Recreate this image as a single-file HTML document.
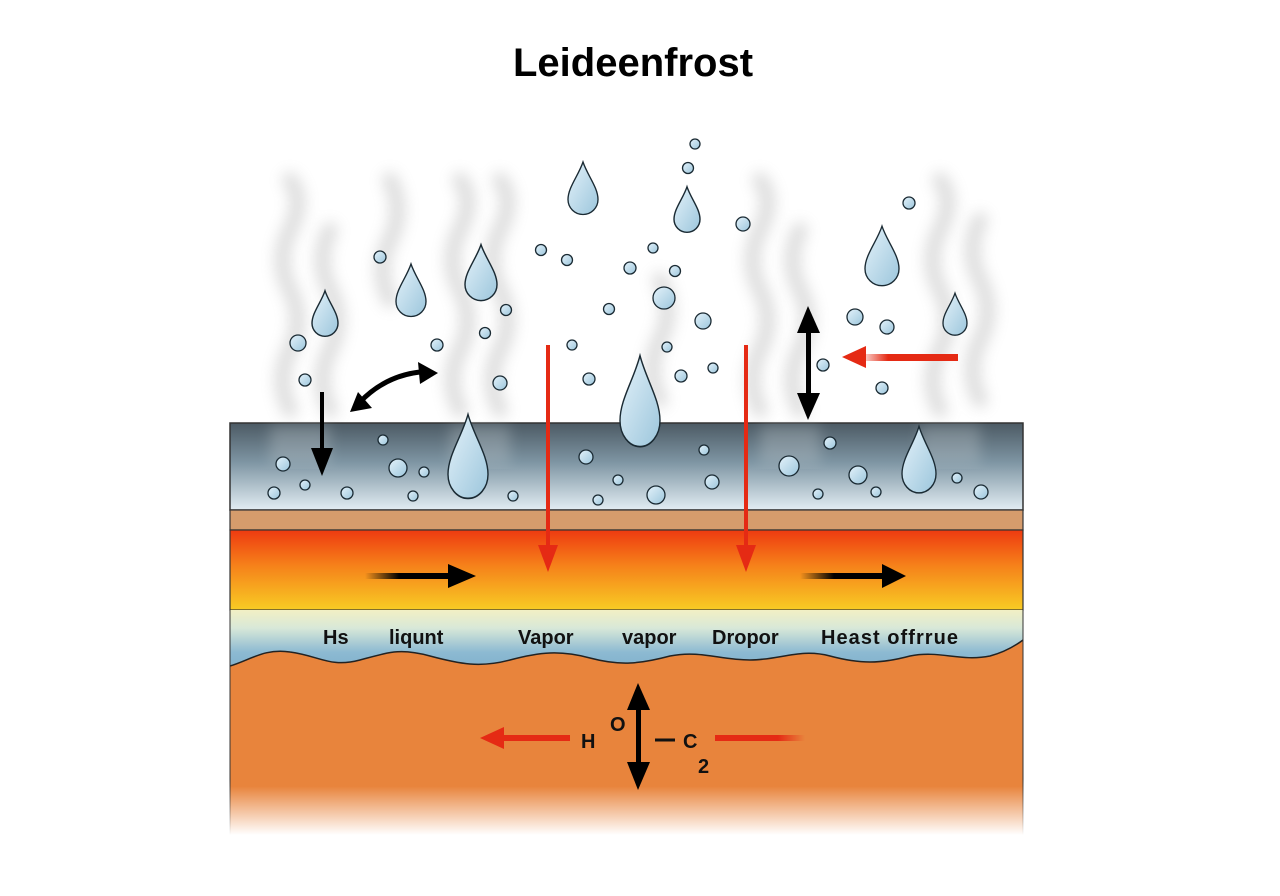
<!DOCTYPE html>
<html><head><meta charset="utf-8"><style>
html,body{margin:0;padding:0;background:#fff;}
svg{display:block}
</style></head><body>
<svg width="1280" height="896" viewBox="0 0 1280 896" xmlns="http://www.w3.org/2000/svg">
<defs>
<linearGradient id="slate" x1="0" y1="0" x2="0" y2="1">
<stop offset="0" stop-color="#4c5a64"/><stop offset="0.45" stop-color="#7e95a3"/><stop offset="1" stop-color="#e2edf3"/></linearGradient>
<linearGradient id="hot" x1="0" y1="0" x2="0" y2="1">
<stop offset="0" stop-color="#ee3a10"/><stop offset="0.45" stop-color="#f6821a"/><stop offset="1" stop-color="#f8cc24"/></linearGradient>
<linearGradient id="band" x1="0" y1="0" x2="0" y2="1">
<stop offset="0" stop-color="#f2f0c4"/><stop offset="0.3" stop-color="#d8e8d8"/><stop offset="0.7" stop-color="#8dbad2"/><stop offset="1" stop-color="#7fb0cc"/></linearGradient>
<linearGradient id="org" x1="0" y1="0" x2="0" y2="1">
<stop offset="0" stop-color="#e8843c"/><stop offset="0.75" stop-color="#e8843c"/><stop offset="1" stop-color="#fff" stop-opacity="1"/></linearGradient>
<linearGradient id="drop" x1="0" y1="0" x2="1" y2="1">
<stop offset="0" stop-color="#e4f2fa"/><stop offset="1" stop-color="#9cc6dc"/></linearGradient>
<linearGradient id="fadeL" x1="0" y1="0" x2="1" y2="0"><stop offset="0" stop-color="#000" stop-opacity="0"/><stop offset="0.4" stop-color="#000"/></linearGradient>
<linearGradient id="fadeR" x1="0" y1="0" x2="1" y2="0"><stop offset="0" stop-color="#e52a14"/><stop offset="0.7" stop-color="#e52a14"/><stop offset="1" stop-color="#e52a14" stop-opacity="0"/></linearGradient>
<linearGradient id="sideL" x1="0" y1="0" x2="0" y2="1"><stop offset="0" stop-color="#333"/><stop offset="0.75" stop-color="#333"/><stop offset="1" stop-color="#333" stop-opacity="0"/></linearGradient>
<filter id="blur"><feGaussianBlur stdDeviation="7"/></filter>
<path id="tear" d="M0,-2.4 C0.3,-1.5 1,-0.7 1,0.1 A1,1 0 0 1 -1,0.1 C-1,-0.7 -0.3,-1.5 0,-2.4Z"/>
</defs>

<text x="633" y="76" text-anchor="middle" font-family="Liberation Sans, sans-serif" font-weight="bold" font-size="40" fill="#000">Leideenfrost</text>

<!-- smoke -->
<g filter="url(#blur)" fill="none" stroke="#8a8a8a" stroke-width="16" opacity="0.28" stroke-linecap="round">
<path d="M290,410 q-15,-30 0,-60 q15,-30 0,-60 q-15,-30 0,-60 q15,-30 0,-50"/>
<path d="M330,410 q-15,-30 0,-60 q15,-30 0,-60 q-15,-30 0,-60"/>
<path d="M460,410 q-15,-30 0,-60 q15,-30 0,-60 q-15,-30 0,-60 q15,-30 0,-50"/>
<path d="M500,410 q-15,-30 0,-60 q15,-30 0,-60 q-15,-30 0,-60 q15,-30 0,-50"/>
<path d="M390,300 q-15,-30 0,-60 q15,-30 0,-60"/>
<path d="M760,410 q-15,-30 0,-60 q15,-30 0,-60 q-15,-30 0,-60 q15,-30 0,-50"/>
<path d="M800,410 q-15,-30 0,-60 q15,-30 0,-60 q-15,-30 0,-60"/>
<path d="M940,410 q-15,-30 0,-60 q15,-30 0,-60 q-15,-30 0,-60 q15,-30 0,-50"/>
<path d="M980,400 q-15,-30 0,-60 q15,-30 0,-60 q-15,-30 0,-60"/>
<path d="M660,400 q-15,-30 0,-60 q15,-30 0,-60"/>
</g>

<!-- layers -->
<rect x="230" y="423" width="793" height="87" fill="url(#slate)" stroke="#333" stroke-width="1.5"/>
<g filter="url(#blur)" fill="#c8d0d4" opacity="0.3">
<rect x="270" y="425" width="60" height="40"/><rect x="450" y="425" width="60" height="40"/><rect x="760" y="425" width="60" height="40"/><rect x="920" y="425" width="60" height="40"/></g>
<rect x="230" y="510" width="793" height="20" fill="#d69c6c" stroke="#333" stroke-width="1.2"/>
<rect x="230" y="530" width="793" height="80" fill="url(#hot)" stroke="#333" stroke-width="1.2"/>
<rect x="230" y="610" width="793" height="60" fill="url(#band)"/>
<path d="M230,666 C250,660 265,648 290,652 C320,656 330,668 360,660 C390,652 400,648 430,656 C460,664 480,668 510,660 C540,652 560,650 590,658 C620,666 640,664 670,656 C700,650 720,660 750,660 C780,660 800,648 830,656 C860,664 880,664 910,656 C940,650 960,662 990,656 C1005,652 1015,646 1023,640 L1023,835 L230,835Z" fill="url(#org)"/>
<path d="M230,666 C250,660 265,648 290,652 C320,656 330,668 360,660 C390,652 400,648 430,656 C460,664 480,668 510,660 C540,652 560,650 590,658 C620,666 640,664 670,656 C700,650 720,660 750,660 C780,660 800,648 830,656 C860,664 880,664 910,656 C940,650 960,662 990,656 C1005,652 1015,646 1023,640" fill="none" stroke="#222" stroke-width="1.5"/>
<rect x="229.5" y="610" width="1" height="225" fill="url(#sideL)"/>
<rect x="1022.5" y="610" width="1" height="225" fill="url(#sideL)"/>

<!-- labels -->
<g font-family="Liberation Sans, sans-serif" font-weight="bold" font-size="20" fill="#111">
<text x="323" y="644">Hs</text><text x="389" y="644">liqunt</text><text x="518" y="644">Vapor</text><text x="622" y="644">vapor</text><text x="712" y="644">Dropor</text><text x="821" y="644" textLength="137">Heast offrrue</text>
<text x="581" y="748">H</text><text x="610" y="731">O</text><text x="683" y="748">C</text><text x="698" y="773">2</text>
</g>
<line x1="655" y1="740" x2="675" y2="740" stroke="#111" stroke-width="3"/>

<!-- bubbles -->
<g fill="url(#drop)" stroke="#1a2a33" stroke-width="1.3">
<circle cx="380" cy="257" r="6"/><circle cx="298" cy="343" r="8"/><circle cx="305" cy="380" r="6"/><circle cx="437" cy="345" r="6"/><circle cx="485" cy="333" r="5.5"/><circle cx="506" cy="310" r="5.5"/><circle cx="500" cy="383" r="7"/>
<circle cx="541" cy="250" r="5.5"/><circle cx="567" cy="260" r="5.5"/><circle cx="609" cy="309" r="5.5"/><circle cx="572" cy="345" r="5"/><circle cx="589" cy="379" r="6"/><circle cx="630" cy="268" r="6"/><circle cx="653" cy="248" r="5"/><circle cx="675" cy="271" r="5.5"/><circle cx="664" cy="298" r="11"/><circle cx="703" cy="321" r="8"/><circle cx="667" cy="347" r="5"/><circle cx="681" cy="376" r="6"/><circle cx="713" cy="368" r="5"/>
<circle cx="695" cy="144" r="5"/><circle cx="688" cy="168" r="5.5"/><circle cx="743" cy="224" r="7"/><circle cx="909" cy="203" r="6"/><circle cx="855" cy="317" r="8"/><circle cx="887" cy="327" r="7"/><circle cx="882" cy="388" r="6"/><circle cx="823" cy="365" r="6"/>
<circle cx="283" cy="464" r="7"/><circle cx="305" cy="485" r="5"/><circle cx="274" cy="493" r="6"/><circle cx="347" cy="493" r="6"/><circle cx="383" cy="440" r="5"/><circle cx="398" cy="468" r="9"/><circle cx="413" cy="496" r="5"/><circle cx="424" cy="472" r="5"/><circle cx="513" cy="496" r="5"/>
<circle cx="586" cy="457" r="7"/><circle cx="598" cy="500" r="5"/><circle cx="618" cy="480" r="5"/><circle cx="656" cy="495" r="9"/><circle cx="704" cy="450" r="5"/><circle cx="712" cy="482" r="7"/><circle cx="789" cy="466" r="10"/><circle cx="818" cy="494" r="5"/><circle cx="830" cy="443" r="6"/><circle cx="858" cy="475" r="9"/><circle cx="876" cy="492" r="5"/><circle cx="957" cy="478" r="5"/><circle cx="981" cy="492" r="7"/>
</g>

<!-- drops -->
<g fill="url(#drop)" stroke="#1a2a33">
<use href="#tear" transform="translate(325,322) scale(13)" stroke-width="0.11"/>
<use href="#tear" transform="translate(411,300) scale(15)" stroke-width="0.09"/>
<use href="#tear" transform="translate(481,283) scale(16)" stroke-width="0.09"/>
<use href="#tear" transform="translate(583,198) scale(15)" stroke-width="0.09"/>
<use href="#tear" transform="translate(687,218) scale(13)" stroke-width="0.11"/>
<use href="#tear" transform="translate(882,267) scale(17)" stroke-width="0.08"/>
<use href="#tear" transform="translate(955,322) scale(12)" stroke-width="0.11"/>
<use href="#tear" transform="translate(640,418) scale(20,26)" stroke-width="0.07"/>
<use href="#tear" transform="translate(468,472) scale(20,24)" stroke-width="0.07"/>
<use href="#tear" transform="translate(919,472) scale(17,19)" stroke-width="0.08"/>
</g>

<!-- red arrows -->
<g fill="#e52a14">
<rect x="546" y="345" width="4" height="210"/><polygon points="538,545 558,545 548,572"/>
<rect x="744" y="345" width="4" height="210"/><polygon points="736,545 756,545 746,572"/>
<rect x="858" y="354" width="100" height="7" fill="url(#fadeR)" transform="rotate(180 908 357.5)"/>
<polygon points="842,357 866,346 866,368"/>
<polygon points="480,738 504,727 504,749"/>
<rect x="500" y="735" width="70" height="6"/>
<rect x="715" y="735" width="90" height="6" fill="url(#fadeR)"/>
</g>

<!-- black arrows -->
<g fill="#000">
<rect x="320" y="392" width="4" height="60"/>
<polygon points="311,448 333,448 322,476"/>
<rect x="806" y="328" width="5" height="70"/><polygon points="797,333 820,333 808,306"/><polygon points="797,393 820,393 808,420"/>
<rect x="636" y="705" width="5" height="60"/><polygon points="627,710 650,710 638,683"/><polygon points="627,762 650,762 638,790"/>
<rect x="365" y="573" width="85" height="6" fill="url(#fadeL)"/><polygon points="448,564 448,588 476,576"/>
<rect x="800" y="573" width="85" height="6" fill="url(#fadeL)"/><polygon points="882,564 882,588 906,576"/>
<path d="M360,402 Q385,376 420,372" fill="none" stroke="#000" stroke-width="5"/>
<polygon points="350,412 372,408 358,392"/>
<polygon points="438,373 418,362 420,384"/>
</g>
</svg>
</body></html>
